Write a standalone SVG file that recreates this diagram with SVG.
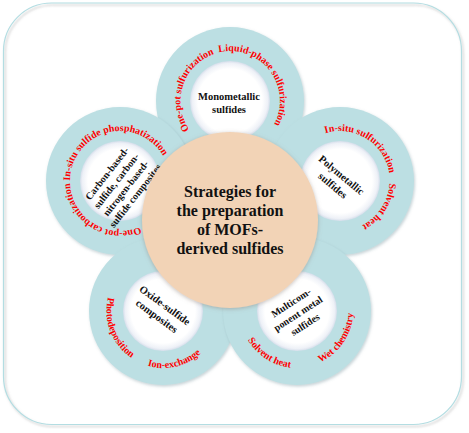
<svg xmlns="http://www.w3.org/2000/svg" width="469" height="433" viewBox="0 0 469 433">
<defs>
<filter id="sh" x="-20%" y="-20%" width="140%" height="140%">
<feDropShadow dx="1" dy="1.5" stdDeviation="1.5" flood-color="#7f9aa3" flood-opacity="0.45"/>
</filter>
<filter id="fsh" x="-5%" y="-5%" width="110%" height="110%">
<feDropShadow dx="1.5" dy="2" stdDeviation="1.2" flood-color="#888" flood-opacity="0.5"/>
</filter>
<filter id="csh" x="-10%" y="-10%" width="120%" height="120%">
<feDropShadow dx="0" dy="1" stdDeviation="2" flood-color="#8a7f78" flood-opacity="0.5"/>
</filter>
<radialGradient id="wg">
<stop offset="0" stop-color="#fff"/>
<stop offset="0.8" stop-color="#fff"/>
<stop offset="0.94" stop-color="#eef1f7"/>
<stop offset="1" stop-color="#d6deeb"/>
</radialGradient>
<style>
.ring{fill:#bcdfe3;filter:url(#sh)}
.inner{fill:url(#wg)}
.red{font-family:"Liberation Serif","Times New Roman",serif;font-weight:bold;font-size:10px;fill:#f00}
.lab{font-family:"Liberation Serif","Times New Roman",serif;font-weight:bold;font-size:10px;fill:#111;text-anchor:middle}
.big{font-size:10.5px}
.title{font-family:"Liberation Serif","Times New Roman",serif;font-weight:bold;font-size:16px;fill:#111;text-anchor:middle}
</style>
<path id="p1" d="M214.55,148.55 A50,50 0 0 1 245.45,53.45"/>
<path id="p2" d="M199.56,61.33 A50,50 0 0 1 260.44,140.67"/>
<path id="p3" d="M297.6,154.5 A50,50 0 0 1 382.4,207.5"/>
<path id="p4" d="M367.23,139.07 A50,50 0 0 1 312.77,222.93"/>
<path id="p5" d="M71.7,193.94 A50,50 0 0 1 168.3,168.06"/>
<path id="p6" d="M162.4,207.5 A50,50 0 0 1 77.6,154.5"/>
<path id="p7" d="M142.57,257.79 A57,57 0 0 0 183.43,364.21"/>
<path id="p8" d="M107.46,323.82 A57,57 0 0 0 218.54,298.18"/>
<path id="p9" d="M249.19,279.96 A57,57 0 0 0 344.81,342.04"/>
<path id="p10" d="M265.13,358.25 A57,57 0 0 0 328.87,263.75"/>
</defs>
<rect width="469" height="433" fill="#fff"/>
<rect id="frame" x="3.5" y="3" width="458" height="421.5" rx="48" fill="none" stroke="#b3dde2" stroke-width="1.2" filter="url(#fsh)"/>

<g id="petal-monometallic">
<circle class="ring" cx="230" cy="101" r="74"/>
<circle class="inner" cx="230" cy="101" r="40"/>
<text class="lab big" x="229" y="99.5">Monometallic</text>
<text class="lab big" x="229" y="112.5">sulfides</text>
<text class="red"><textPath href="#p1" startOffset="50%" text-anchor="middle">One-pot sulfurization</textPath></text>
<text class="red"><textPath href="#p2" startOffset="50%" text-anchor="middle">Liquid-phase sulfurization</textPath></text>
</g>

<g id="petal-polymetallic">
<circle class="ring" cx="340" cy="181" r="74"/>
<circle class="inner" cx="340" cy="181" r="40"/>
<g transform="translate(337,180.5) rotate(40)">
<text class="lab big" x="0" y="-3.5">Polymetallic</text>
<text class="lab big" x="0" y="10">sulfides</text>
</g>
<text class="red"><textPath href="#p3" startOffset="50%" text-anchor="middle">In-situ sulfurization</textPath></text>
<text class="red"><textPath href="#p4" startOffset="50%" text-anchor="middle">Solvent heat</textPath></text>
</g>

<g id="petal-carbon">
<circle class="ring" cx="120" cy="181" r="74"/>
<circle class="inner" cx="120" cy="181" r="40"/>
<g transform="translate(121,184.5) rotate(-52)">
<text class="lab" x="0" y="-14.5">Carbon-based-</text>
<text class="lab" x="0" y="-2.5">sulfide, carbon-</text>
<text class="lab" x="0" y="9.5">nitrogen-based-</text>
<text class="lab" x="0" y="21.5">sulfide composites</text>
</g>
<text class="red"><textPath href="#p5" startOffset="50%" text-anchor="middle">In-situ sulfide phosphatization</textPath></text>
<text class="red"><textPath href="#p6" startOffset="50%" text-anchor="middle">One-pot carbonization</textPath></text>
</g>

<g id="petal-oxide">
<circle class="ring" cx="163" cy="311" r="74"/>
<circle class="inner" cx="163" cy="311" r="40"/>
<g transform="translate(161,310.5) rotate(36)">
<text class="lab big" x="0" y="-3">Oxide-sulfide</text>
<text class="lab big" x="0" y="10.5">composites</text>
</g>
<text class="red"><textPath href="#p7" startOffset="50%" text-anchor="middle">Photodeposition</textPath></text>
<text class="red"><textPath href="#p8" startOffset="50%" text-anchor="middle">Ion-exchange</textPath></text>
</g>

<g id="petal-multicomponent">
<circle class="ring" cx="297" cy="311" r="74"/>
<circle class="inner" cx="297" cy="311" r="40"/>
<g transform="translate(298,313.5) rotate(-33)">
<text class="lab" x="0" y="-9.5">Multicom-</text>
<text class="lab" x="0" y="3.5">ponent metal</text>
<text class="lab" x="0" y="16.5">sulfides</text>
</g>
<text class="red"><textPath href="#p9" startOffset="50%" text-anchor="middle">Solvent heat</textPath></text>
<text class="red"><textPath href="#p10" startOffset="50%" text-anchor="middle">Wet chemistry</textPath></text>
</g>

<g id="center">
<circle cx="230" cy="220" r="88" fill="#f2d3b6" filter="url(#csh)"/>
<text class="title" x="230" y="197">Strategies for</text>
<text class="title" x="230" y="216">the preparation</text>
<text class="title" x="230" y="235">of MOFs-</text>
<text class="title" x="230" y="254">derived sulfides</text>
</g>

<g id="connectors"/>
</svg>
